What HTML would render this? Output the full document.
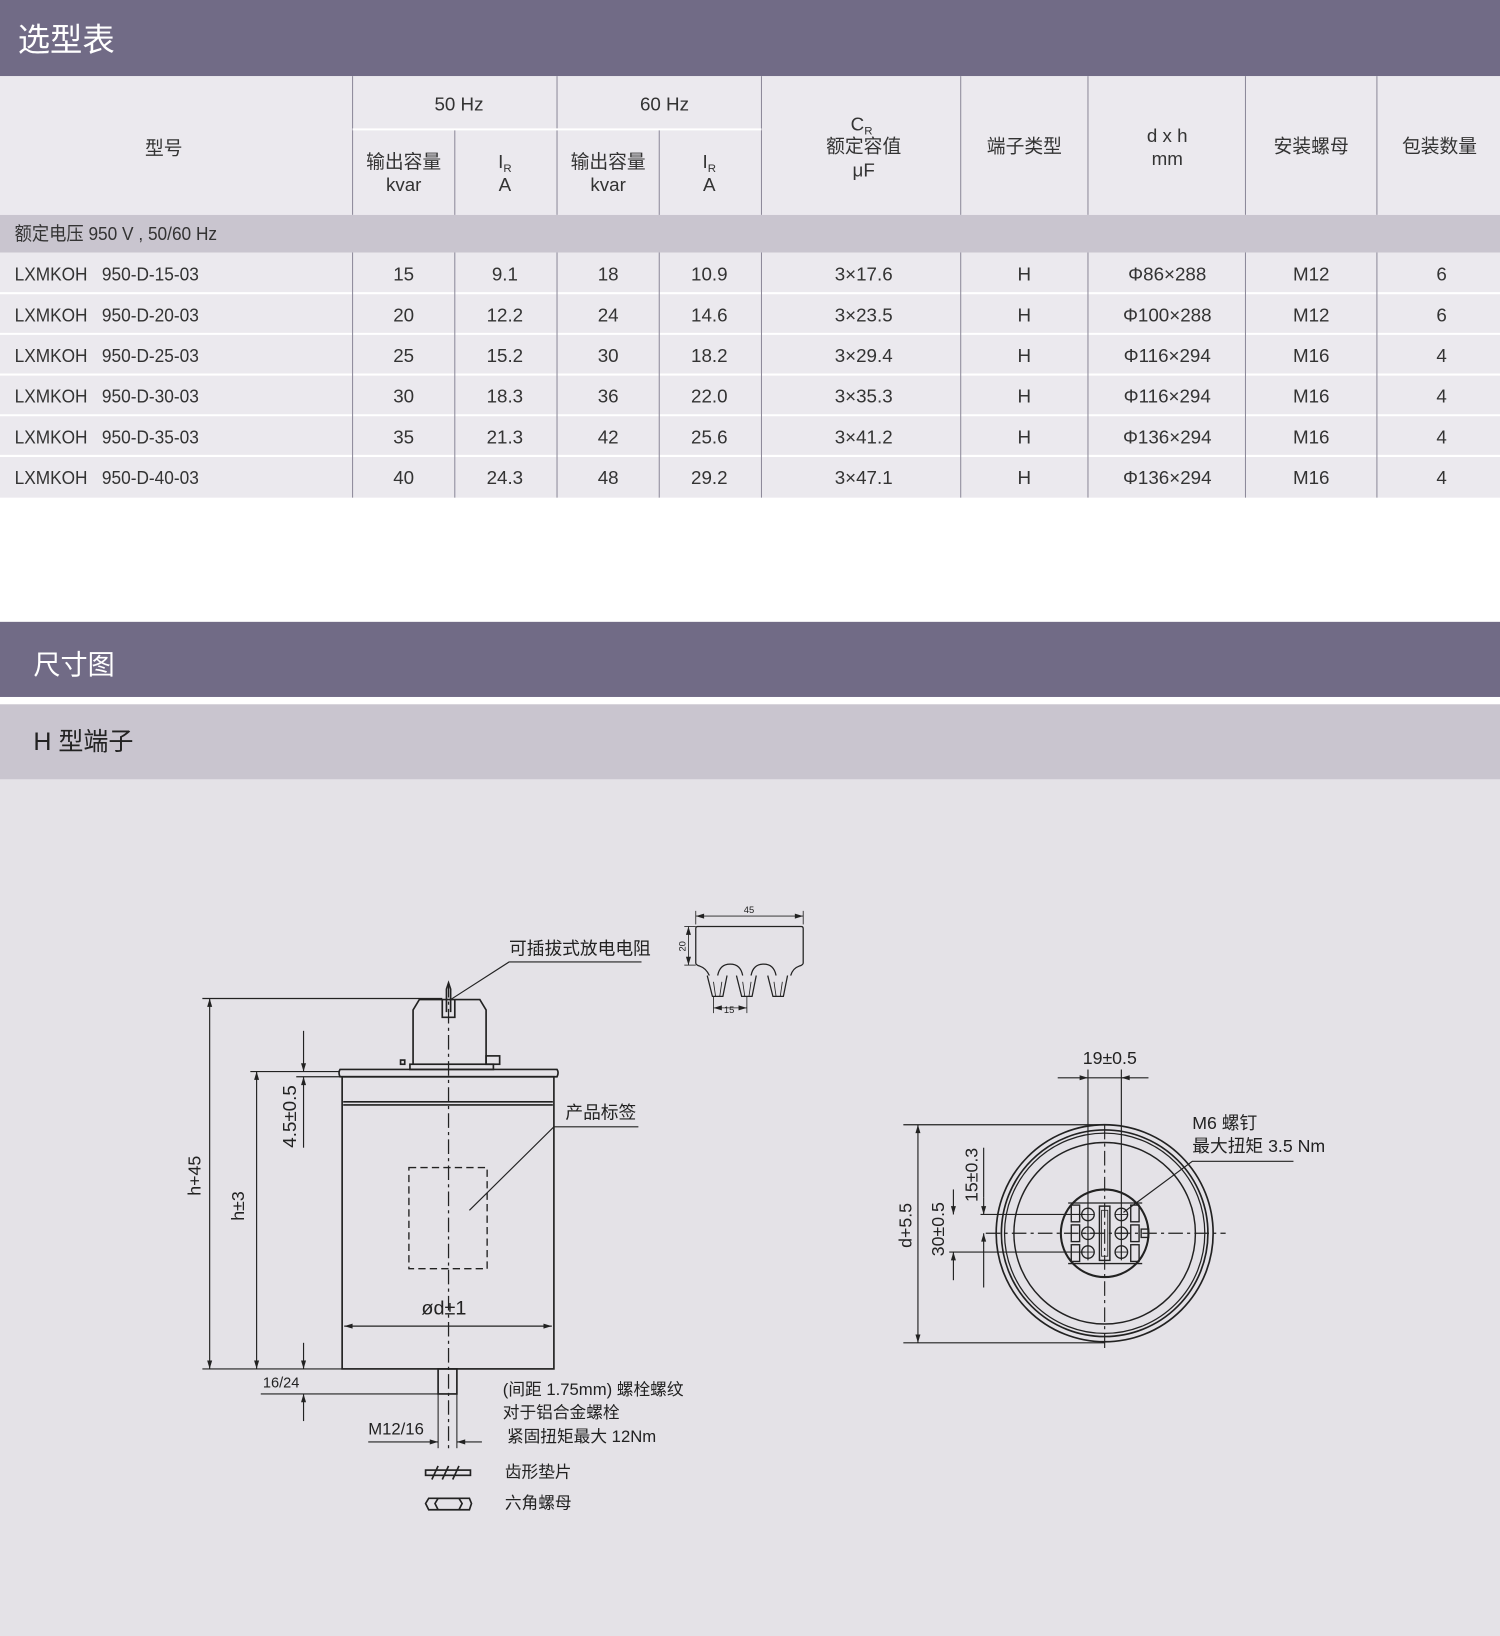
<!DOCTYPE html>
<html><head><meta charset="utf-8">
<style>
html,body{margin:0;padding:0;background:#fff;}
svg{display:block;}
text{font-family:"Liberation Sans","Noto Sans CJK SC",sans-serif;}
</style></head>
<body>
<svg width="1500" height="1636" viewBox="0 0 1438 1568" preserveAspectRatio="none" xmlns="http://www.w3.org/2000/svg">
<defs>
<marker id="a" viewBox="0 0 10 10" refX="10" refY="5" markerWidth="10" markerHeight="8" orient="auto-start-reverse" markerUnits="userSpaceOnUse"><path d="M0,2 L10,5 L0,8 z" fill="#222"/></marker>
</defs>
<rect width="1438" height="1568" fill="#fff"/>
<rect x="0" y="0" width="1438" height="73" fill="#716b86"/>
<text x="17" y="49" font-size="31" fill="#fff">选型表</text>
<rect x="0" y="73" width="1438" height="133" fill="#ebe9ee"/>
<g stroke="#8d8a9a" stroke-width="1">
<line x1="338" y1="73" x2="338" y2="206"/><line x1="534" y1="73" x2="534" y2="206"/><line x1="730" y1="73" x2="730" y2="206"/>
<line x1="921" y1="73" x2="921" y2="206"/><line x1="1043" y1="73" x2="1043" y2="206"/><line x1="1194" y1="73" x2="1194" y2="206"/><line x1="1320" y1="73" x2="1320" y2="206"/>
<line x1="436" y1="124" x2="436" y2="206"/><line x1="632" y1="124" x2="632" y2="206"/>
</g>
<line x1="338" y1="124" x2="730" y2="124" stroke="#fff" stroke-width="2"/>
<g font-size="18" fill="#333" text-anchor="middle">
<text x="157" y="148">型号</text>
<text x="440" y="106">50 Hz</text><text x="637" y="106">60 Hz</text>
<text x="387" y="161">输出容量</text><text x="387" y="183">kvar</text>
<text x="484" y="161">I<tspan font-size="11" dy="4">R</tspan></text><text x="484" y="183">A</text>
<text x="583" y="161">输出容量</text><text x="583" y="183">kvar</text>
<text x="680" y="161">I<tspan font-size="11" dy="4">R</tspan></text><text x="680" y="183">A</text>
<text x="826" y="125">C<tspan font-size="11" dy="4">R</tspan></text><text x="828" y="146">额定容值</text><text x="828" y="169">μF</text>
<text x="982" y="146">端子类型</text>
<text x="1119" y="136">d x h</text><text x="1119" y="158">mm</text>
<text x="1257" y="146">安装螺母</text>
<text x="1380" y="146">包装数量</text>
</g>
<rect x="0" y="206" width="1438" height="36" fill="#c9c5cf"/>
<text x="14" y="230" font-size="18" fill="#333" transform="translate(14,0) scale(0.92,1) translate(-14,0)">额定电压 950 V , 50/60 Hz</text>
<g>
<rect x="0" y="242" width="1438" height="235" fill="#ebe9ee"/>
<g stroke="#fff" stroke-width="2">
<line x1="0" y1="281" x2="1438" y2="281"/><line x1="0" y1="320" x2="1438" y2="320"/><line x1="0" y1="359" x2="1438" y2="359"/><line x1="0" y1="398" x2="1438" y2="398"/><line x1="0" y1="437" x2="1438" y2="437"/>
</g>
<g stroke="#8d8a9a" stroke-width="1">
<line x1="338" y1="242" x2="338" y2="477"/><line x1="436" y1="242" x2="436" y2="477"/><line x1="534" y1="242" x2="534" y2="477"/><line x1="632" y1="242" x2="632" y2="477"/><line x1="730" y1="242" x2="730" y2="477"/><line x1="921" y1="242" x2="921" y2="477"/><line x1="1043" y1="242" x2="1043" y2="477"/><line x1="1194" y1="242" x2="1194" y2="477"/><line x1="1320" y1="242" x2="1320" y2="477"/>
</g>
<g font-size="18" fill="#333" transform="translate(14,0) scale(0.92,1) translate(-14,0)">
<text x="14" y="269">LXMKOH&#160;&#160;&#160;950-D-15-03</text>
<text x="14" y="308">LXMKOH&#160;&#160;&#160;950-D-20-03</text>
<text x="14" y="347">LXMKOH&#160;&#160;&#160;950-D-25-03</text>
<text x="14" y="386">LXMKOH&#160;&#160;&#160;950-D-30-03</text>
<text x="14" y="425">LXMKOH&#160;&#160;&#160;950-D-35-03</text>
<text x="14" y="464">LXMKOH&#160;&#160;&#160;950-D-40-03</text>
</g>
<g font-size="18" fill="#333" text-anchor="middle">
<text x="387" y="269">15</text><text x="484" y="269">9.1</text><text x="583" y="269">18</text><text x="680" y="269">10.9</text><text x="828" y="269">3×17.6</text><text x="982" y="269">H</text><text x="1119" y="269">Φ86×288</text><text x="1257" y="269">M12</text><text x="1382" y="269">6</text>
<text x="387" y="308">20</text><text x="484" y="308">12.2</text><text x="583" y="308">24</text><text x="680" y="308">14.6</text><text x="828" y="308">3×23.5</text><text x="982" y="308">H</text><text x="1119" y="308">Φ100×288</text><text x="1257" y="308">M12</text><text x="1382" y="308">6</text>
<text x="387" y="347">25</text><text x="484" y="347">15.2</text><text x="583" y="347">30</text><text x="680" y="347">18.2</text><text x="828" y="347">3×29.4</text><text x="982" y="347">H</text><text x="1119" y="347">Φ116×294</text><text x="1257" y="347">M16</text><text x="1382" y="347">4</text>
<text x="387" y="386">30</text><text x="484" y="386">18.3</text><text x="583" y="386">36</text><text x="680" y="386">22.0</text><text x="828" y="386">3×35.3</text><text x="982" y="386">H</text><text x="1119" y="386">Φ116×294</text><text x="1257" y="386">M16</text><text x="1382" y="386">4</text>
<text x="387" y="425">35</text><text x="484" y="425">21.3</text><text x="583" y="425">42</text><text x="680" y="425">25.6</text><text x="828" y="425">3×41.2</text><text x="982" y="425">H</text><text x="1119" y="425">Φ136×294</text><text x="1257" y="425">M16</text><text x="1382" y="425">4</text>
<text x="387" y="464">40</text><text x="484" y="464">24.3</text><text x="583" y="464">48</text><text x="680" y="464">29.2</text><text x="828" y="464">3×47.1</text><text x="982" y="464">H</text><text x="1119" y="464">Φ136×294</text><text x="1257" y="464">M16</text><text x="1382" y="464">4</text>
</g>
</g>
<rect x="0" y="596" width="1438" height="72" fill="#716b86"/>
<text x="32" y="646" font-size="26" fill="#fff">尺寸图</text>
<rect x="0" y="675" width="1438" height="72" fill="#c9c5cf"/>
<text x="32" y="719" font-size="24" fill="#222">H 型端子</text>
<rect x="0" y="747" width="1438" height="821" fill="#e4e2e7"/>

<g fill="none" stroke="#222" stroke-width="1.6">
<rect x="328" y="1032" width="203" height="280"/>
<path d="M326,1025 L534,1025 Q536,1028 534,1032 L326,1032 Q324,1028 326,1025 Z"/>
<line x1="329" y1="1056" x2="530" y2="1056"/><line x1="329" y1="1059" x2="530" y2="1059"/>
<rect x="393" y="1020" width="80" height="5"/>
<path d="M396,1020 L396,968 L402,958 L460,958 L466,968 L466,1020"/>
<rect x="466" y="1012" width="13" height="8"/>
<rect x="384" y="1016" width="4" height="4"/>
<path d="M424,958 L424,975 L436,975 L436,958"/>
<path d="M428,970 L428,948 L430,942 L432,948 L432,970"/>
<rect x="420" y="1312" width="18" height="24"/>
<line x1="420" y1="1336" x2="420" y2="1388" stroke-width="1"/>
<line x1="438" y1="1336" x2="438" y2="1388" stroke-width="1"/>
<rect x="392" y="1119" width="75" height="97" stroke-dasharray="7,4" stroke-width="1.3"/>
<line x1="430" y1="942" x2="430" y2="1392" stroke-dasharray="14,4,3,4" stroke-width="1.2"/>
</g>
<g stroke="#222" stroke-width="1.1" fill="none">
<line x1="194" y1="957" x2="424" y2="957"/>
<line x1="201" y1="957" x2="201" y2="1312" marker-start="url(#a)" marker-end="url(#a)"/>
<line x1="194" y1="1312" x2="328" y2="1312"/>
<line x1="240" y1="1027" x2="326" y2="1027"/>
<line x1="246" y1="1027" x2="246" y2="1312" marker-start="url(#a)" marker-end="url(#a)"/>
<line x1="291" y1="988" x2="291" y2="1027" marker-end="url(#a)"/>
<line x1="291" y1="1100" x2="291" y2="1032" marker-end="url(#a)"/>
<line x1="284" y1="1032" x2="326" y2="1032"/>
<line x1="291" y1="1287" x2="291" y2="1312" marker-end="url(#a)"/>
<line x1="291" y1="1362" x2="291" y2="1336" marker-end="url(#a)"/>
<line x1="250" y1="1336" x2="420" y2="1336"/>
<line x1="330" y1="1271" x2="529" y2="1271" marker-start="url(#a)" marker-end="url(#a)"/>
<line x1="353" y1="1382" x2="420" y2="1382" marker-end="url(#a)"/>
<line x1="462" y1="1382" x2="438" y2="1382" marker-end="url(#a)"/>
<polyline points="432,958 488,922 615,922"/>
<polyline points="450,1160 531,1080 612,1080"/>
</g>
<g font-size="17" fill="#222">
<text x="488" y="915">可插拔式放电电阻</text>
<text x="542" y="1072">产品标签</text>
<text x="404" y="1260" font-size="19">ød±1</text>
<text x="252" y="1330" font-size="14">16/24</text>
<text x="353" y="1375" font-size="16">M12/16</text>
<text x="482" y="1337" font-size="16">(间距 1.75mm) 螺栓螺纹</text>
<text x="482" y="1359" font-size="16">对于铝合金螺栓</text>
<text x="486" y="1382" font-size="16">紧固扭矩最大 12Nm</text>
<text x="484" y="1416" font-size="16">齿形垫片</text>
<text x="484" y="1446" font-size="16">六角螺母</text>
<text transform="translate(192,1146) rotate(-90)" font-size="17">h+45</text>
<text transform="translate(234,1170) rotate(-90)" font-size="17">h±3</text>
<text transform="translate(284,1100) rotate(-90)" font-size="18">4.5±0.5</text>
</g>
<g stroke="#222" stroke-width="1.6" fill="none">
<rect x="408" y="1409" width="43" height="5"/>
<path d="M414,1418 L420,1405 M424,1418 L430,1405 M434,1418 L440,1405"/>
<path d="M411,1436 L450,1436 L452,1441 L450,1447 L411,1447 L408,1441 Z"/>
<path d="M420,1436 L417,1441 L420,1447 M440,1436 L443,1441 L440,1447 M420,1436 L440,1436"/>
</g>
<g stroke="#222" stroke-width="1.2" fill="none">
<path d="M669,888 L768,888 Q770,888 770,890 L770,923 Q770,925 766,926 Q760,928 758,935 M669,888 Q667,888 667,890 L667,923 Q667,925 671,926 Q677,928 680,935 M688,935 Q690,924 700,924 Q710,924 712,935 M720,935 Q722,924 732,924 Q742,924 744,935"/>
<path d="M678,935 L683,955 L693,955 L697,935 M706,935 L711,955 L721,955 L725,935 M736,935 L741,955 L751,955 L755,935"/>
<path d="M686,955 L684,941 M690,955 L692,941 M714,955 L712,941 M718,955 L720,941 M744,955 L742,941 M748,955 L750,941" stroke-width="0.8"/>
<line x1="667" y1="878" x2="770" y2="878" stroke-width="0.8" marker-start="url(#a)" marker-end="url(#a)"/>
<line x1="667" y1="873" x2="667" y2="886" stroke-width="0.8"/><line x1="770" y1="873" x2="770" y2="886" stroke-width="0.8"/>
<line x1="660" y1="888" x2="660" y2="925" stroke-width="0.8" marker-start="url(#a)" marker-end="url(#a)"/>
<line x1="656" y1="888" x2="667" y2="888" stroke-width="0.8"/><line x1="656" y1="925" x2="667" y2="925" stroke-width="0.8"/>
<line x1="684" y1="966" x2="716" y2="966" stroke-width="0.8" marker-start="url(#a)" marker-end="url(#a)"/>
<line x1="684" y1="955" x2="684" y2="971" stroke-width="0.8"/><line x1="716" y1="955" x2="716" y2="971" stroke-width="0.8"/>
</g>
<g font-size="9" fill="#222">
<text x="713" y="875">45</text>
<text x="694" y="971">15</text>
<text transform="translate(657,912) rotate(-90)">20</text>
</g>
<g fill="none" stroke="#222">
<circle cx="1059" cy="1182" r="104" stroke-width="1.6"/>
<circle cx="1059" cy="1182" r="99" stroke-width="1.6"/>
<circle cx="1059" cy="1182" r="96" stroke-width="1.2"/>
<circle cx="1059" cy="1182" r="87" stroke-width="1.4"/>
<circle cx="1059" cy="1182" r="42" stroke-width="2"/>
<rect x="1054" y="1156" width="10" height="52" stroke-width="1.4"/>
<rect x="1056" y="1160" width="6" height="44" stroke-width="0.8"/>
<g stroke-width="1.3">
<circle cx="1043" cy="1164" r="6"/><circle cx="1043" cy="1182" r="6"/><circle cx="1043" cy="1200" r="6"/>
<circle cx="1075" cy="1164" r="6"/><circle cx="1075" cy="1182" r="6"/><circle cx="1075" cy="1200" r="6"/>
<path d="M1037,1164 h12 M1043,1158 v12 M1037,1182 h12 M1043,1176 v12 M1037,1200 h12 M1043,1194 v12 M1069,1164 h12 M1075,1158 v12 M1069,1182 h12 M1075,1176 v12 M1069,1200 h12 M1075,1194 v12" stroke-width="0.8"/>
<rect x="1027" y="1155" width="8" height="16"/><rect x="1027" y="1174" width="8" height="16"/><rect x="1027" y="1193" width="8" height="16"/>
<rect x="1084" y="1155" width="8" height="16"/><rect x="1084" y="1174" width="8" height="16"/><rect x="1084" y="1193" width="8" height="16"/>
<rect x="1094" y="1178" width="7" height="8"/>
<line x1="1024" y1="1153" x2="1095" y2="1153"/><line x1="1024" y1="1211" x2="1095" y2="1211"/>
</g>
<line x1="1059" y1="1078" x2="1059" y2="1296" stroke-width="1.1" stroke-dasharray="14,4,3,4"/>
<line x1="945" y1="1182" x2="1175" y2="1182" stroke-width="1.1" stroke-dasharray="14,4,3,4"/>
<g stroke-width="1.1">
<line x1="1043" y1="1025" x2="1043" y2="1208"/>
<line x1="1075" y1="1025" x2="1075" y2="1208"/>
<line x1="1014" y1="1033" x2="1043" y2="1033" marker-end="url(#a)"/>
<line x1="1101" y1="1033" x2="1075" y2="1033" marker-end="url(#a)"/>
<line x1="1043" y1="1033" x2="1075" y2="1033"/>
<line x1="866" y1="1078" x2="1059" y2="1078"/>
<line x1="866" y1="1287" x2="1059" y2="1287"/>
<line x1="880" y1="1078" x2="880" y2="1287" marker-start="url(#a)" marker-end="url(#a)"/>
<line x1="940" y1="1164" x2="1040" y2="1164"/>
<line x1="910" y1="1200" x2="1040" y2="1200"/>
<line x1="943" y1="1148" x2="943" y2="1164" marker-end="url(#a)"/>
<line x1="943" y1="1100" x2="943" y2="1148"/>
<line x1="943" y1="1198" x2="943" y2="1182" marker-end="url(#a)"/>
<line x1="943" y1="1198" x2="943" y2="1234"/>
<line x1="914" y1="1140" x2="914" y2="1164" marker-end="url(#a)"/>
<line x1="914" y1="1227" x2="914" y2="1200" marker-end="url(#a)"/>
<polyline points="1077,1162 1143,1113 1240,1113"/>
</g>
</g>
<g font-size="17" fill="#222">
<text x="1038" y="1020">19±0.5</text>
<text x="1143" y="1082">M6 螺钉</text>
<text x="1143" y="1104">最大扭矩 3.5 Nm</text>
<text transform="translate(874,1196) rotate(-90)">d+5.5</text>
<text transform="translate(937,1152) rotate(-90)">15±0.3</text>
<text transform="translate(905,1204) rotate(-90)">30±0.5</text>
</g>
</svg>
</body></html>
